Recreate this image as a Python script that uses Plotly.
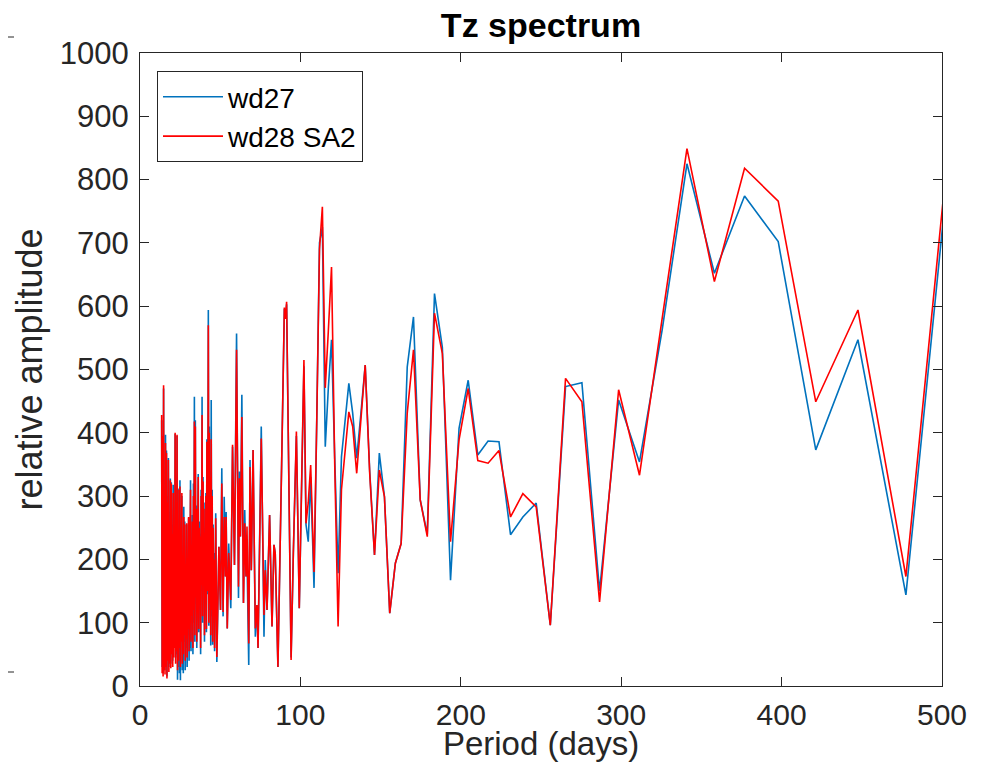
import plotly.graph_objects as go

# ---------------- data ----------------
# dense short-period part
period_dense = [13.5,13.8,14.1,14.4,14.7,15.0,15.3,15.6,15.9,16.2,16.5,16.8,17.1,17.4,17.7,18.0,18.3,18.6,18.9,19.2,
                19.5,19.8,20.1,20.4,20.7,21.0,21.3,21.6,21.9,22.2,22.5,22.8,23.1,23.4,23.7,24.0,24.3,24.6,24.9,25.2,
                25.5,25.8,26.1,26.4,26.7,27.0,27.3,27.6,27.9,28.2,28.5,28.8,29.1,29.4,29.7,30.0,30.3,30.6,30.9,31.2,
                31.5,31.8,32.1,32.4,32.7,33.0,33.3,33.6,33.9,34.2,34.5,34.8,35.1,35.4,35.7,36.0,36.3,36.6,36.9,37.2,
                37.5,37.8,38.1,38.4,38.7,39.0,39.3,39.6,39.9,40.2,40.5,40.8,41.1,41.4,41.7,42.0,42.3,42.6,42.9,43.2,
                43.5,43.8,44.1,44.4,44.7,45.0,45.3,45.6,45.9,46.2,46.5]
wd28_dense = [428,20,395,15,475,25,300,18,384,30,368,12,290,40,357,22,260,35,325,28,
              320,50,240,30,305,45,230,60,400,35,280,55,397,25,220,40,310,60,315,30,
              250,70,305,35,200,50,267,80,255,40,180,75,257,45,200,90,267,55,150,100,
              310,70,200,110,260,60,300,120,418,80,410,140,280,70,220,150,330,90,250,130,
              236,60,300,160,428,110,323,170,280,80,242,140,300,90,386,150,260,570,100,400,
              130,330,80,390,120,300,70,250,110,200,60]
wd27_dense = [420,30,390,20,470,40,310,25,397,45,372,15,300,55,360,30,275,50,328,35,
              322,60,255,40,318,60,240,70,398,45,290,50,395,10,230,30,312,20,325,9,
              260,80,300,25,210,20,283,70,260,25,190,60,255,30,210,80,265,40,160,60,
              325,55,210,100,270,50,320,100,457,70,420,130,285,60,230,140,335,85,260,120,
              240,50,310,150,457,100,330,160,290,70,250,130,305,85,390,145,265,594,95,410,
              120,340,64,452,110,310,65,255,100,210,55]

# middle part
period_mid = [47.2,47.9,49.2,50.2,51.0,51.8,52.5,53.3,53.7,54.4,55.3,56.6,57.7,58.9,60.2,61.4,62.0,62.6,63.5,64.5,
              65.3,66.1,66.7,67.8,68.6,69.4,70.5,71.9,72.9,73.6,75.6,77.3,78.1,79.2,80.8,82.3,83.5,84.3,86.0,87.2,
              88.3,90.0,90.7,91.4,92.7,94.2,95.6,97.5,99.3,100.8,102.2,103.5,104.9,106.4]
wd28_mid = [265,46,220,120,320,117,267,173,267,91,210,136,381,191,531,157,328,236,425,131,
            257,173,252,67,346,183,373,91,128,60,391,112,183,120,270,94,223,210,30,180,
            350,598,580,607,300,41,210,402,123,330,515,257,290,349]
wd27_mid = [273,38,220,120,344,110,299,173,275,91,225,123,378,191,557,139,339,236,460,131,
            278,173,204,33,357,183,373,78,128,60,410,78,199,120,270,94,223,210,30,180,
            350,596,580,603,310,45,210,395,123,330,505,255,228,330]

# long-period part
period_long = [108.5,110.2,111.9,113.7,115.5,117.4,119.4,121.4,123.5,125.6,127.9,130.2,132.6,135.1,137.7,140.4,
               143.2,146.2,149.2,152.4,155.7,159.2,162.8,166.6,170.5,174.7,179.1,183.6,188.5,193.6,198.9,204.6,
               210.6,217.0,223.8,231.0,238.7,247.0,255.8,265.3,275.5,286.5,298.4,311.4,325.5,341.0,358.1,376.9,
               397.9,421.3,447.6,477.5,511.6]
wd28_long = [180,420,690,757,471,560,662,350,94,310,370,433,410,336,420,507,
             336,207,341,299,115,194,225,431,531,294,236,589,525,228,389,470,
             356,352,372,267,304,283,96,486,449,133,468,333,580,849,639,818,
             766,449,594,173,1047]
wd27_long = [155,420,700,725,378,470,547,360,178,362,420,478,431,360,430,507,
             340,207,368,299,115,194,225,504,583,294,240,620,535,167,407,483,
             365,387,386,239,267,289,96,473,479,150,452,354,562,825,652,774,
             702,373,547,144,1012]

x_ticks = [0, 100, 200, 300, 400, 500]
y_ticks = [0, 100, 200, 300, 400, 500, 600, 700, 800, 900, 1000]

period = period_dense + period_mid + period_long
wd27 = wd27_dense + wd27_mid + wd27_long
wd28 = wd28_dense + wd28_mid + wd28_long

FONT = "Liberation Sans, Arial, Helvetica, sans-serif"
AX = "#262626"
W, H = 980, 754
L, R, T, B = 132, 46, 45, 76

fig = go.Figure()
fig.add_trace(go.Scatter(x=period, y=wd27, mode="lines", name="wd27",
                         line=dict(color="#0072BD", width=1.6)))
fig.add_trace(go.Scatter(x=period, y=wd28, mode="lines", name="wd28 SA2",
                         line=dict(color="#FF0000", width=1.6)))

axis_common = dict(showgrid=False, zeroline=False, showline=True, linecolor=AX, linewidth=1,
                   mirror="ticks", ticks="inside", ticklen=9, tickcolor=AX, tickwidth=1,
                   automargin=False)

fig.update_xaxes(range=[0, 500], tickvals=x_ticks, **axis_common, ticklabelstandoff=2,
                 tickfont=dict(family=FONT, size=30, color=AX),
                 title=dict(text="Period (days)", font=dict(family=FONT, size=33, color=AX), standoff=0))
fig.update_yaxes(range=[0, 1000], tickvals=y_ticks, **axis_common, ticklabelstandoff=4,
                 tickfont=dict(family=FONT, size=31, color=AX),
                 title=dict(text="relative amplitude", font=dict(family=FONT, size=36, color=AX), standoff=6))

fig.update_layout(
    width=W, height=H,
    margin=dict(l=L, r=R, t=T, b=B),
    paper_bgcolor="white", plot_bgcolor="white",
    title=dict(text="<b>Tz spectrum</b>", x=(L + 401) / W, xanchor="center", y=1 - 5 / H, yanchor="top",
               font=dict(family=FONT, size=34, color="black")),
    legend=dict(x=0.0212, y=0.9716, xanchor="left", yanchor="top",
                bgcolor="white", bordercolor=AX, borderwidth=1,
                font=dict(family=FONT, size=28, color="black"),
                tracegroupgap=0, itemwidth=60),
    showlegend=True,
)

# stray tick fragments at the left border of the page (from a neighbouring axes)
for yp in (1 + 16 / 633, 14 / 633):
    fig.add_shape(type="line", xref="paper", yref="paper",
                  x0=-L / 802, x1=(6 - L) / 802, y0=yp, y1=yp,
                  line=dict(color=AX, width=1))

fig.write_html("out.html")
